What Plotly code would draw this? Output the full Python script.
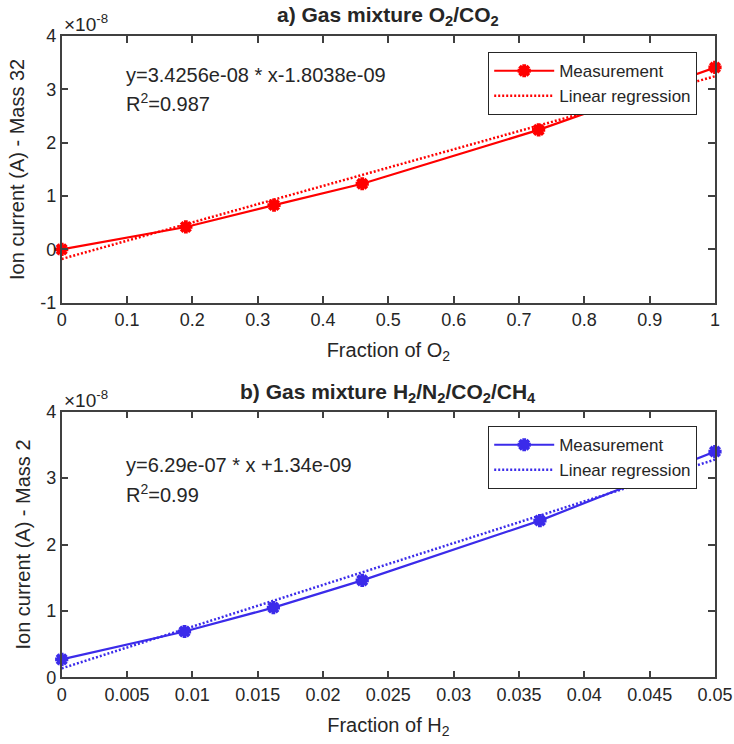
import plotly.graph_objects as go

# ---- Data ----
frac_o2 = [0.0, 0.19, 0.325, 0.46, 0.73, 1.0]
ion_m32 = [0.0e-8, 0.42e-8, 0.83e-8, 1.23e-8, 2.24e-8, 3.41e-8]
reg_x_a = [0.0, 1.0]
reg_y_a = [-0.18038e-8, 3.24522e-8]

frac_h2 = [0.0, 0.0094, 0.0162, 0.023, 0.0366, 0.05]
ion_m2 = [0.27e-8, 0.69e-8, 1.05e-8, 1.46e-8, 2.36e-8, 3.40e-8]
reg_x_b = [0.0, 0.05]
reg_y_b = [0.134e-8, 3.279e-8]

yticks_a = [-1e-8, 0, 1e-8, 2e-8, 3e-8, 4e-8]
yticklabels_a = ["-1", "0", "1", "2", "3", "4"]
yticks_b = [0, 1e-8, 2e-8, 3e-8, 4e-8]
yticklabels_b = ["0", "1", "2", "3", "4"]
xticks_a = [0, 0.1, 0.2, 0.3, 0.4, 0.5, 0.6, 0.7, 0.8, 0.9, 1.0]
xticklabels_a = ["0", "0.1", "0.2", "0.3", "0.4", "0.5", "0.6", "0.7", "0.8", "0.9", "1"]
xticks_b = [0, 0.005, 0.01, 0.015, 0.02, 0.025, 0.03, 0.035, 0.04, 0.045, 0.05]
xticklabels_b = ["0", "0.005", "0.01", "0.015", "0.02", "0.025", "0.03", "0.035", "0.04", "0.045", "0.05"]

RED = "#ff0000"
BLUE = "#3b2bea"
AX = "#262626"
FONT = "Arial, Liberation Sans, Helvetica, sans-serif"

FW, FH = 734, 744


def px(x):
    return x / FW


def py(y):
    return 1 - y / FH


fig = go.Figure()

fig.add_trace(go.Scatter(x=frac_o2, y=ion_m32, mode="lines+markers", name="Measurement",
                         line=dict(color=RED, width=2.2), cliponaxis=False,
                         marker=dict(symbol="asterisk-open", size=11, color=RED,
                                     line=dict(color=RED, width=3.8)),
                         xaxis="x", yaxis="y", legend="legend"))
fig.add_trace(go.Scatter(x=reg_x_a, y=reg_y_a, mode="lines", name="Linear regression",
                         line=dict(color=RED, width=2.5, dash="2px,2px"), cliponaxis=False,
                         xaxis="x", yaxis="y", legend="legend"))
fig.add_trace(go.Scatter(x=frac_h2, y=ion_m2, mode="lines+markers", name="Measurement",
                         line=dict(color=BLUE, width=2.2), cliponaxis=False,
                         marker=dict(symbol="asterisk-open", size=11, color=BLUE,
                                     line=dict(color=BLUE, width=3.8)),
                         xaxis="x2", yaxis="y2", legend="legend2"))
fig.add_trace(go.Scatter(x=reg_x_b, y=reg_y_b, mode="lines", name="Linear regression",
                         line=dict(color=BLUE, width=2.5, dash="2px,2px"), cliponaxis=False,
                         xaxis="x2", yaxis="y2", legend="legend2"))

xdom = [px(61.7), px(715)]
ydom_a = [py(302.7), py(36)]
ydom_b = [py(677.3), py(411.7)]

axis_common = dict(showline=True, linecolor="#404040", linewidth=1.5, mirror="ticks",
                   ticks="inside", ticklen=7, tickcolor="#404040", tickwidth=1.5,
                   showgrid=False, zeroline=False, automargin=False,
                   ticklabeloverflow="allow",
                   tickfont=dict(family=FONT, size=18, color=AX))

legend_common = dict(xanchor="left", yanchor="top", bgcolor="white", bordercolor=AX,
                     borderwidth=1.2, font=dict(family=FONT, size=17, color=AX),
                     itemwidth=60, tracegroupgap=0)

fig.update_layout(
    width=FW, height=FH,
    margin=dict(l=0, r=0, t=0, b=0),
    paper_bgcolor="white", plot_bgcolor="white",
    font=dict(family=FONT, color=AX),
    xaxis=dict(domain=xdom, anchor="y", range=[0, 1], tickvals=xticks_a, ticktext=xticklabels_a,
               title=dict(text="Fraction of O<sub>2</sub>", font=dict(size=20, color=AX), standoff=14),
               **axis_common),
    yaxis=dict(domain=ydom_a, anchor="x", range=[-1e-8, 4e-8], tickvals=yticks_a, ticktext=yticklabels_a,
               title=dict(text="Ion current (A) - Mass 32", font=dict(size=20, color=AX), standoff=10),
               **axis_common),
    xaxis2=dict(domain=xdom, anchor="y2", range=[0, 0.05], tickvals=xticks_b, ticktext=xticklabels_b,
                title=dict(text="Fraction of H<sub>2</sub>", font=dict(size=20, color=AX), standoff=14),
                **axis_common),
    yaxis2=dict(domain=ydom_b, anchor="x2", range=[0, 4e-8], tickvals=yticks_b, ticktext=yticklabels_b,
                title=dict(text="Ion current (A) - Mass 2", font=dict(size=20, color=AX), standoff=10),
                **axis_common),
    legend=dict(x=px(488), y=py(52), **legend_common),
    legend2=dict(x=px(488), y=py(426), **legend_common),
    showlegend=True,
)

annots = [
    dict(text="<b>a) Gas mixture O<sub>2</sub>/CO<sub>2</sub></b>", x=px(388), y=py(16),
         font=dict(size=21)),
    dict(text="<b>b) Gas mixture H<sub>2</sub>/N<sub>2</sub>/CO<sub>2</sub>/CH<sub>4</sub></b>",
         x=px(388), y=py(393), font=dict(size=21)),
    dict(text="y=3.4256e-08 * x-1.8038e-09", x=px(124), y=py(75), xanchor="left",
         font=dict(size=20)),
    dict(text="R<sup>2</sup>=0.987", x=px(124), y=py(103), xanchor="left", font=dict(size=20)),
    dict(text="y=6.29e-07 * x +1.34e-09", x=px(124), y=py(465), xanchor="left",
         font=dict(size=20)),
    dict(text="R<sup>2</sup>=0.99", x=px(124), y=py(493), xanchor="left", font=dict(size=20)),
    dict(text="\u00d710<sup>-8</sup>", x=px(62), y=py(37), xanchor="left", yanchor="bottom",
         font=dict(size=19)),
    dict(text="\u00d710<sup>-8</sup>", x=px(62), y=py(413), xanchor="left", yanchor="bottom",
         font=dict(size=19)),
]
for a in annots:
    base = dict(xref="paper", yref="paper", showarrow=False, yanchor="middle", xanchor="center")
    base.update(a)
    base["font"] = dict(family=FONT, color=AX, **a.get("font", {}))
    fig.add_annotation(**base)

fig.write_html("out.html", config={"displayModeBar": False},
               post_script="document.body.style.margin='0px';")
